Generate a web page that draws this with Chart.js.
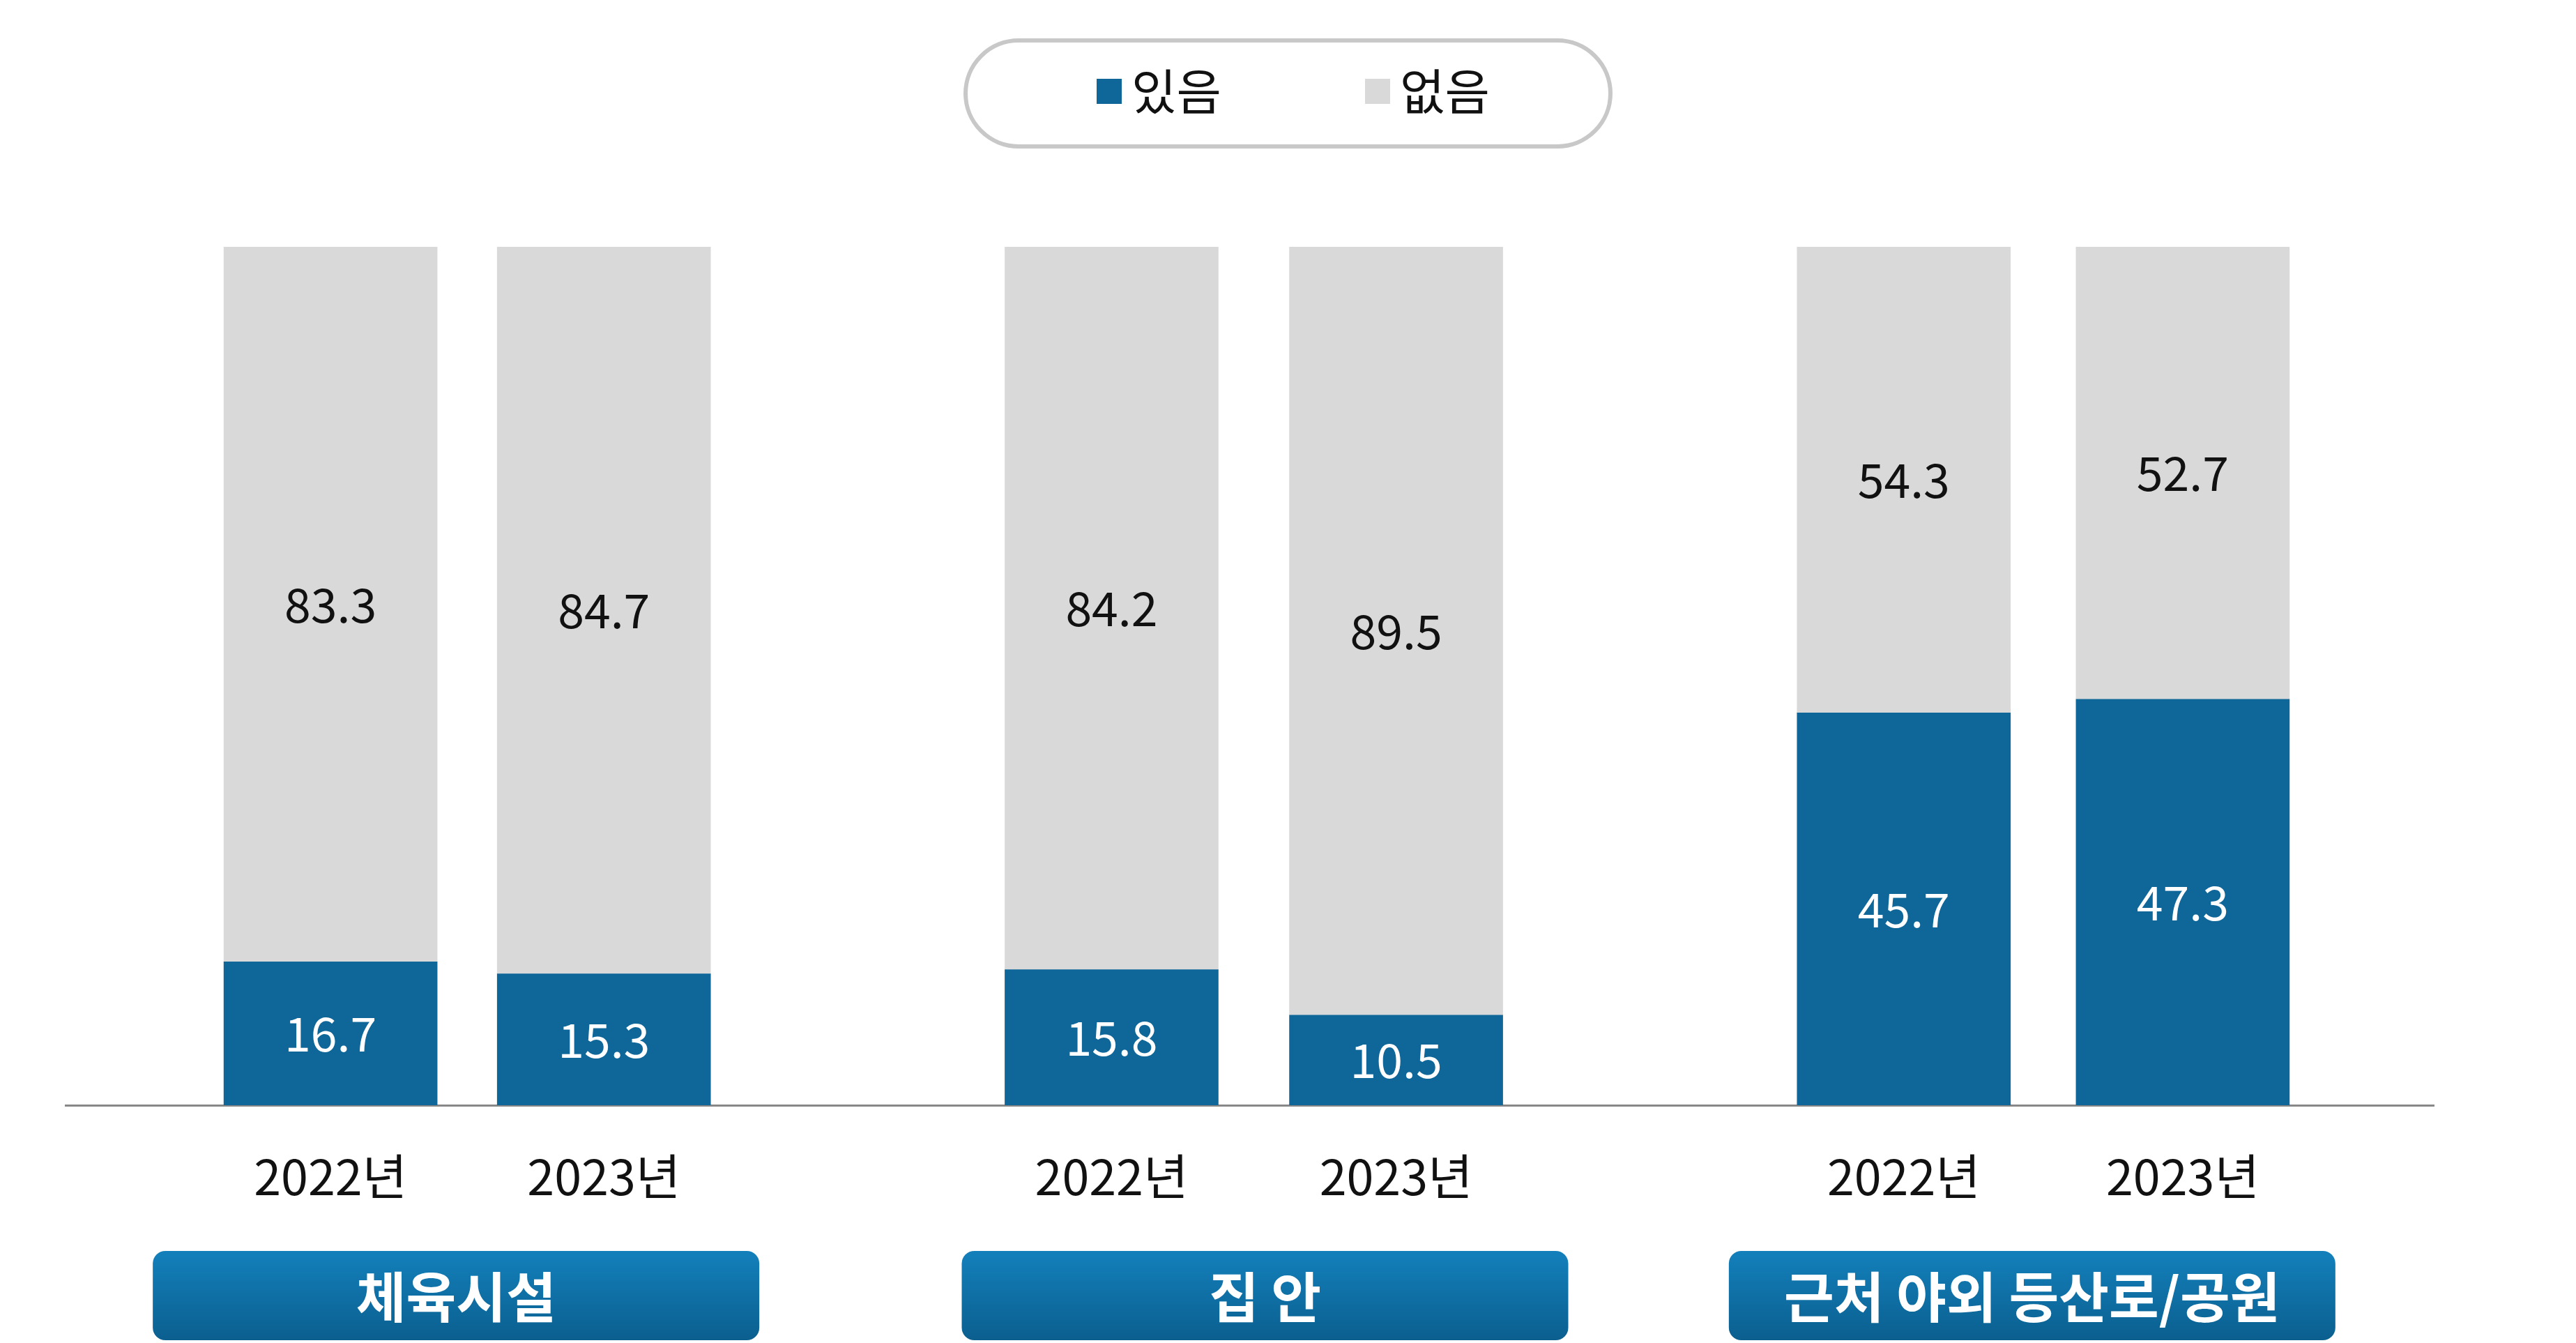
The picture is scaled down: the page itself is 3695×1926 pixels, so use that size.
<!DOCTYPE html>
<html><head><meta charset="utf-8">
<script src="https://cdn.jsdelivr.net/npm/chart.js@4"></script>
<style>html,body{margin:0;background:#fff}</style>
</head><body>
<canvas id="c" width="3695" height="1926"></canvas>
<script>
const years = ['2022년', '2023년', '2022년', '2023년', '2022년', '2023년'];
const xPos = [0, 0.98, 2.8, 3.82, 5.64, 6.64];
const groups = ['체육시설', '집 안', '근처 야외 등산로/공원'];
const groupCenters = [0.45, 3.35, 6.1];
const yes = [16.7, 15.3, 15.8, 10.5, 45.7, 47.3];
const no = [83.3, 84.7, 84.2, 89.5, 54.3, 52.7];
const FONT = "'Noto Sans CJK KR', 'Noto Sans', sans-serif";

const labelsPlugin = {
  id: 'labels',
  afterDatasetsDraw(chart) {
    const c = chart.ctx;
    c.save();
    c.font = '68px ' + FONT;
    c.textAlign = 'center'; c.textBaseline = 'middle';
    chart.data.datasets.forEach((ds, i) => {
      chart.getDatasetMeta(i).data.forEach((bar, j) => {
        c.fillStyle = i === 0 ? '#fff' : '#111';
        c.fillText(ds.data[j].y.toFixed(1), bar.x, (bar.y + bar.base) / 2);
      });
    });
    // group boxes
    const xs = chart.scales.x;
    c.font = 'bold 78px ' + FONT;
    groupCenters.forEach((g, i) => {
      const cx = xs.getPixelForValue(g), w = 870, h = 128, top = 1794;
      const grad = c.createLinearGradient(0, top, 0, top + h);
      grad.addColorStop(0, '#1380bb'); grad.addColorStop(1, '#0b5f8f');
      c.fillStyle = grad;
      c.beginPath(); c.roundRect(cx - w / 2, top, w, h, 18); c.fill();
      c.fillStyle = '#fff';
      c.fillText(groups[i], cx, top + h / 2 + 2);
    });
    // legend
    c.strokeStyle = '#c8c8c8'; c.lineWidth = 6;
    c.beginPath(); c.roundRect(1385, 58, 925, 152, 76); c.stroke();
    c.font = '70px ' + FONT; c.textAlign = 'left';
    [[chart.data.datasets[0], 1573], [chart.data.datasets[1], 1958]].forEach(([ds, x]) => {
      c.fillStyle = ds.backgroundColor; c.fillRect(x, 113, 36, 36);
      c.fillStyle = '#111'; c.fillText(ds.label, x + 50, 131);
    });
    c.restore();
  }
};

new Chart(document.getElementById('c'), {
  type: 'bar',
  data: {
    datasets: [
      { label: '있음', data: xPos.map((x, i) => ({ x, y: yes[i] })), backgroundColor: '#0e6699' },
      { label: '없음', data: xPos.map((x, i) => ({ x, y: no[i] })), backgroundColor: '#d9d9d9' }
    ]
  },
  options: {
    responsive: false, animation: false,
    layout: { padding: { top: 354, left: 94, right: 204, bottom: 0 } },
    datasets: { bar: { barThickness: 306 } },
    plugins: { legend: { display: false }, tooltip: { enabled: false } },
    scales: {
      x: {
        type: 'linear', stacked: true, min: -0.95, max: 7.54, offset: false,
        grid: { display: false },
        border: { color: '#888', width: 3 },
        afterBuildTicks: s => { s.ticks = xPos.map(v => ({ value: v })); },
        afterFit: s => { s.height = 341; },
        ticks: {
          padding: 52, font: { size: 70, family: FONT }, color: '#111',
          callback: (v, i) => years[i]
        }
      },
      y: { stacked: true, min: 0, max: 100, display: false }
    }
  },
  plugins: [labelsPlugin]
});
</script>
</body></html>
